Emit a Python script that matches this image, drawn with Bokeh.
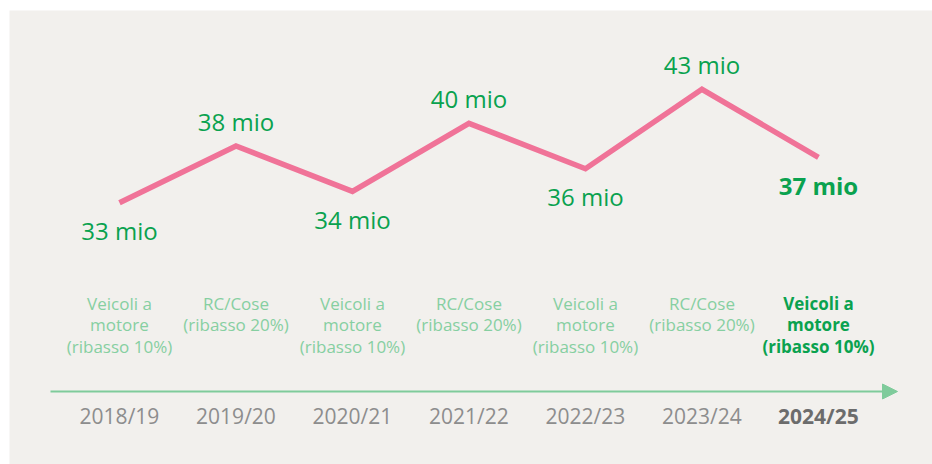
from bokeh.plotting import figure
from bokeh.models import ColumnDataSource, Range1d, Arrow, NormalHead
from bokeh.core.properties import value
from bokeh.embed import file_html
from bokeh.resources import INLINE

# ---- data ----
years = ["2018/19", "2019/20", "2020/21", "2021/22", "2022/23", "2023/24", "2024/25"]
amounts = [33, 38, 34, 40, 36, 43, 37]
amount_labels = ["33 mio", "38 mio", "34 mio", "40 mio", "36 mio", "43 mio", "37 mio"]
categories = [
    "Veicoli a\nmotore\n(ribasso 10%)",
    "RC/Cose\n(ribasso 20%)",
    "Veicoli a\nmotore\n(ribasso 10%)",
    "RC/Cose\n(ribasso 20%)",
    "Veicoli a\nmotore\n(ribasso 10%)",
    "RC/Cose\n(ribasso 20%)",
    "Veicoli a\nmotore\n(ribasso 10%)",
]
highlight_year = "2024/25"

FONT = "Open Sans"
PINK = "#f07398"
GREEN = "#0aa24f"
LIGHT_GREEN = "#86cfa1"
GREY = "#8d8d8d"
DARK_GREY = "#6c6c6c"

xs = list(range(len(years)))
n = len(amounts)
is_peak = []
for i, v in enumerate(amounts):
    nb = [amounts[j] for j in (i - 1, i + 1) if 0 <= j < n]
    is_peak.append(all(v > w for w in nb))
hl = [y == highlight_year for y in years]

p = figure(width=932, height=464, output_backend="svg", toolbar_location=None,
           x_axis_type=None, y_axis_type=None,
           x_range=Range1d(-0.944, 6.979), y_range=Range1d(9.94, 49.94),
           min_border_left=9, min_border_top=10, min_border_right=0, min_border_bottom=0)
p.background_fill_color = "#f2f0ed"
p.border_fill_color = "white"
p.outline_line_color = None
p.grid.visible = False

# line
p.line(xs, amounts, line_color=PINK, line_width=5.5, line_join="miter")

# value labels
for flag, style in ((False, "normal"), (True, "bold")):
    idx = [i for i in range(n) if hl[i] == flag]
    src = ColumnDataSource(dict(
        x=[xs[i] for i in idx],
        y=[amounts[i] for i in idx],
        t=[amount_labels[i] for i in idx],
        yo=[-25 if is_peak[i] else 28 for i in idx],
    ))
    p.text("x", "y", text="t", y_offset="yo", source=src, text_align="center",
           text_baseline="alphabetic", text_font=value(FONT), text_font_size="24px",
           text_font_style=style, text_color=GREEN)

# category labels and year labels (placed relative to the bottom of the panel)
y0 = p.y_range.start
for flag, style, ccol, ycol in ((False, "normal", LIGHT_GREEN, GREY), (True, "bold", GREEN, DARK_GREY)):
    idx = [i for i in range(n) if hl[i] == flag]
    src = ColumnDataSource(dict(
        x=[xs[i] for i in idx],
        y=[y0] * len(idx),
        c=[categories[i] for i in idx],
        yr=[years[i] for i in idx],
    ))
    p.text("x", "y", text="c", y_offset=-173, source=src, text_align="center",
           text_baseline="top", text_font=value(FONT), text_font_size="17px",
           text_font_style=style, text_color=ccol, text_line_height=0.95)
    p.text("x", "y", text="yr", y_offset=-49, source=src, text_align="center",
           text_baseline="alphabetic", text_font=value(FONT), text_font_size="21px",
           text_font_style=style, text_color=ycol)

# timeline arrow
p.add_layout(Arrow(x_start=41, y_start=73, x_end=888, y_end=73,
                   start_units="screen", end_units="screen",
                   line_color="#7fcb9b", line_width=2,
                   end=NormalHead(size=15, fill_color="#7fcb9b", line_color="#7fcb9b", line_width=1)))

open("out.html", "w").write(file_html(p, INLINE))
